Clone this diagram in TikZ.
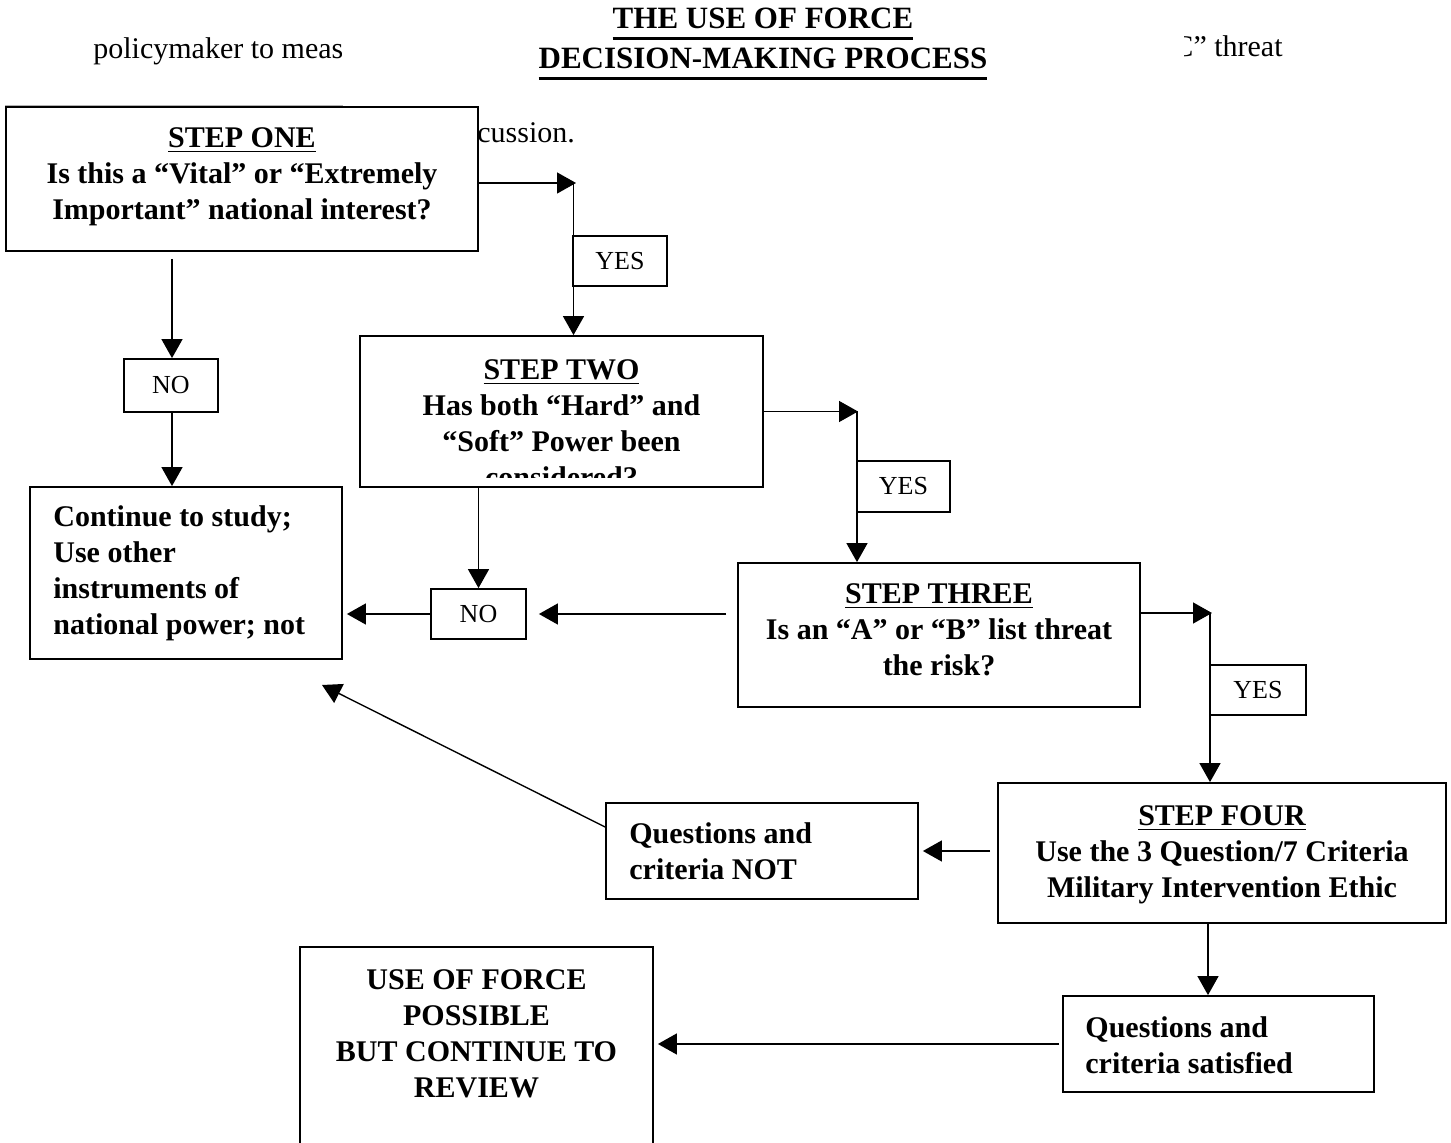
\documentclass[tikz,border=0pt]{standalone}
\usepackage{fontspec}
\setmainfont{Liberation Serif}
\usepackage{tikz}
\usetikzlibrary{arrows.meta}
\newcommand\stepfont{\fontsize{15}{18}\selectfont\bfseries}
\newcommand\bgfont{\fontsize{15}{18}\selectfont}
\newcommand\lblfont{\fontsize{13}{15}\selectfont}
\newcommand\ttlfont{\fontsize{15.5}{20}\selectfont\bfseries}
\newcommand\ulin[3]{\leavevmode\setbox0=\hbox{#3}\rlap{\rule[-#2]{\wd0}{#1}}\box0}
\tikzset{
  box/.style   = {draw, fill=white, line width=0.9pt, inner sep=0pt},
  lbl/.style   = {box, font=\lblfont, minimum width=47pt, minimum height=25pt},
  btxt/.style  = {anchor=north, inner sep=0pt, align=center, font=\stepfont},
  ltxt/.style  = {anchor=north west, inner sep=0pt, align=left, font=\stepfont},
  bgtxt/.style = {inner sep=0pt, font=\bgfont},
  ttl/.style   = {fill=white, inner xsep=0pt, inner ysep=2pt, minimum width=421pt,
                  align=center, font=\ttlfont},
  arr/.style   = {-{Triangle[length=9.5pt,width=10.5pt]}, line width=0.7pt},
}
\begin{document}
\begin{tikzpicture}[x=0.5pt,y=-0.5pt]
  \useasboundingbox (0,0) rectangle (1451,1143);
  \clip (0,0) rectangle (1451,1143);
  \node[bgtxt, anchor=base west] (bgl) at (93,59) {policymaker to meas};
  \node[bgtxt, anchor=base east] (bgr) at (1283,57) {C” threat};
  \node[bgtxt, anchor=base west] (bgm) at (477,143) {cussion.};
  \draw[gray!60, line width=0.8pt] (5,106) -- (343,106);
  \node[ttl, anchor=north] (title) at (763,4)
    {\ulin{1.2pt}{5.3pt}{THE USE OF FORCE}\\\ulin{1.2pt}{5.3pt}{DECISION-MAKING PROCESS}};

  \node[box, minimum width=236pt, minimum height=72pt] (s1) at (242,179) {};
  \node[box, minimum width=201.5pt, minimum height=75.5pt] (s2) at (561.5,411.5) {};
  \node[box, minimum width=201pt, minimum height=72pt] (s3) at (939,635) {};
  \node[box, minimum width=224pt, minimum height=70pt] (s4) at (1222,853) {};
  \node[box, minimum width=156pt, minimum height=86pt] (cont) at (186,573) {};
  \node[box, minimum width=156pt, minimum height=48pt] (qnot) at (762,851) {};
  \node[box, minimum width=155.5pt, minimum height=48pt] (qsat) at (1218.5,1044) {};
  \node[box, minimum width=176.5pt, minimum height=104pt] (uof) at (476.5,1051) {};

  \node[btxt] (s1t) at (242,127)
    {\ulin{0.8pt}{2.5pt}{STEP ONE}\\Is this a “Vital” or “Extremely\\Important” national interest?};
  \begin{scope}
    \clip ([yshift=5pt]s2.south west) rectangle (s2.north east);
    \node[btxt] (s2t) at (561.5,359)
      {\ulin{0.8pt}{2.5pt}{STEP TWO}\\Has both “Hard” and\\“Soft” Power been\\considered?};
  \end{scope}
  \node[btxt] (s3t) at (939,583)
    {\ulin{0.8pt}{2.5pt}{STEP THREE}\\Is an “A” or “B” list threat\\the risk?};
  \node[btxt] (s4t) at (1222,805)
    {\ulin{0.8pt}{2.5pt}{STEP FOUR}\\Use the 3 Question/7 Criteria\\Military Intervention Ethic};
  \node[ltxt] (contt) at (53,505)
    {Continue to study;\\Use other\\instruments of\\national power; not};
  \node[ltxt] (qnott) at (629,822) {Questions and\\criteria NOT};
  \node[ltxt] (qsatt) at (1085,1016) {Questions and\\criteria satisfied};
  \node[btxt] (uoft) at (476.5,969)
    {USE OF FORCE\\POSSIBLE\\BUT CONTINUE TO\\REVIEW};

  \coordinate (t1) at (576,183);
  \coordinate (k1) at (573.5,183);
  \coordinate (n1) at (172,259);
  \coordinate (t2) at (858,411.5);
  \coordinate (k2) at (857,411.5);
  \coordinate (t3) at (1212,613);
  \coordinate (k3) at (1210,613);
  \coordinate (k4) at (1208,923);
  \coordinate (d1) at (322,685);

  \draw[arr] (s1.east |- t1) -- (t1);
  \draw[arr] (k1) -- (k1 |- s2.north);
  \draw[arr] (s2.east |- t2) -- (t2);
  \draw[arr] (k2) -- (k2 |- s3.north);
  \draw[arr] (s3.east |- t3) -- (t3);
  \draw[arr] (k3) -- (k3 |- s4.north);
  \draw[arr] (k4) -- (k4 |- qsat.north);
  \draw[arr] ([xshift=-3.5pt]s4.west |- qnot.east) -- ([xshift=2pt]qnot.east);
  \draw[arr] ([yshift=12pt]qnot.west) -- (d1);
  \draw[arr] ([xshift=-1.5pt]qsat.west) -- ([xshift=2pt]uof.east |- qsat.west);

  \node[lbl] (yes1) at (620,261) {YES};
  \node[lbl, minimum height=26.5pt] (no1) at (171,385.5) {NO};
  \node[lbl, minimum width=46.5pt, minimum height=25.5pt] (yes2) at (903.5,486.5) {YES};
  \node[lbl, minimum width=47.5pt] (no2) at (478.5,614) {NO};
  \node[lbl, minimum width=48pt] (yes3) at (1258,690) {YES};

  \draw[arr] (n1) -- (n1 |- no1.north);
  \draw[arr] (no1.south -| n1) -- (n1 |- cont.north);
  \draw[arr] (no2.north |- s2.south) -- (no2.north);
  \draw[arr] (no2.west) -- ([xshift=2pt]cont.east |- no2.west);
  \draw[arr] ([xshift=-5.5pt]s3.west |- no2.east) -- ([xshift=6pt]no2.east);
\end{tikzpicture}
\end{document}
